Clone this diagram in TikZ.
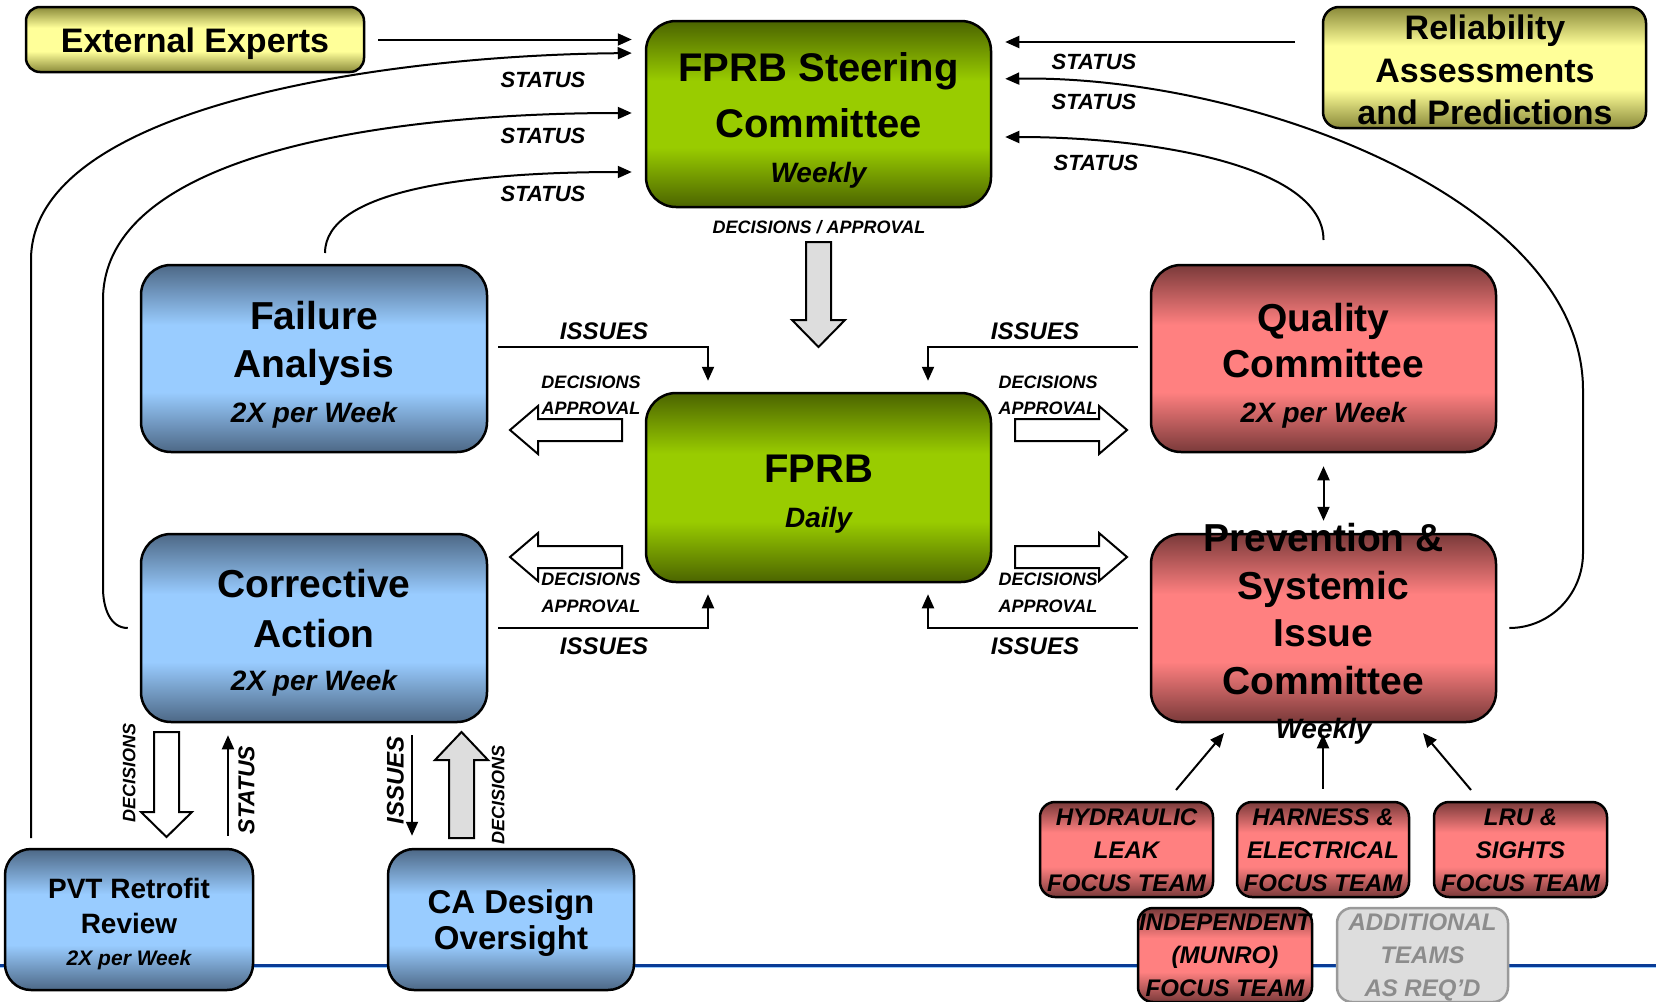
\documentclass[tikz,border=0pt]{standalone}
\usepackage{fontspec}
\setmainfont{Liberation Sans}
\usetikzlibrary{arrows.meta,calc}
\definecolor{gdk}{HTML}{4B6400}
\definecolor{glt}{HTML}{99CC00}
\definecolor{bdk}{HTML}{4D6886}
\definecolor{blt}{HTML}{99CCFF}
\definecolor{rdk}{HTML}{7A3A3A}
\definecolor{rlt}{HTML}{FF8080}
\definecolor{ydk}{HTML}{8A8A3A}
\definecolor{ylt}{HTML}{FFFF99}
\definecolor{rulecol}{HTML}{0A3C96}
\definecolor{greyfill}{HTML}{DDDDDD}
\definecolor{greyline}{HTML}{9A9A9A}
\definecolor{greytext}{HTML}{8C8C8C}
\pgfdeclareverticalshading{gshade}{100bp}{color(0bp)=(gdk); color(25bp)=(gdk); color(41bp)=(glt); color(59bp)=(glt); color(75bp)=(gdk); color(100bp)=(gdk)}
\pgfdeclareverticalshading{bshade}{100bp}{color(0bp)=(bdk); color(25bp)=(bdk); color(41bp)=(blt); color(59bp)=(blt); color(75bp)=(bdk); color(100bp)=(bdk)}
\pgfdeclareverticalshading{rshade}{100bp}{color(0bp)=(rdk); color(25bp)=(rdk); color(41bp)=(rlt); color(59bp)=(rlt); color(75bp)=(rdk); color(100bp)=(rdk)}
\pgfdeclareverticalshading{yshade}{100bp}{color(0bp)=(ydk); color(25bp)=(ydk); color(41bp)=(ylt); color(59bp)=(ylt); color(75bp)=(ydk); color(100bp)=(ydk)}
\begin{document}
\begin{tikzpicture}[x=1pt,y=-1pt,
  box/.style={draw=black, line width=2.5pt, rounded corners=#1, inner sep=0pt, shade},
  box/.default=30pt,
  gbox/.style={box=#1, shading=gshade}, gbox/.default=30pt,
  bbox/.style={box=#1, shading=bshade}, bbox/.default=30pt,
  rbox/.style={box=#1, shading=rshade}, rbox/.default=30pt,
  ybox/.style={box=#1, shading=yshade}, ybox/.default=15pt,
  greybox/.style={draw=greyline, fill=greyfill, line width=2.5pt, rounded corners=15pt, inner sep=0pt},
  arr/.style={line width=2pt, -{Triangle[length=14pt,width=12pt]}},
  darr/.style={line width=2pt, {Triangle[length=14pt,width=12pt]}-{Triangle[length=14pt,width=12pt]}},
  hollow/.style={draw=black, fill=white, line width=2pt, line join=miter},
  greyarrow/.style={draw=black, fill=greyfill, line width=2pt, line join=miter},
  txt/.style={inner sep=0pt, text depth=0pt, text height={0.72*#1}, font=\fontsize{#1}{#1}\selectfont\bfseries},
  txti/.style={txt=#1, font=\fontsize{#1}{#1}\selectfont\bfseries\itshape}
]
\useasboundingbox (0,0) rectangle (1656,1001);
% horizontal rule
\draw[line width=3pt, draw=rulecol] (0,965) -- (1656,965);
\draw[line width=1pt, draw=blt] (0,967.5) -- (1656,967.5);

% boxes
\node[ybox=14pt, minimum width=338pt, minimum height=65pt] (ext) at (195,39.5) {};
\node[ybox=16pt, minimum width=323pt, minimum height=121pt] (rel) at (1484.5,67.5) {};
\node[gbox, minimum width=345pt, minimum height=186pt] (steer) at (818.5,114) {};
\node[gbox, minimum width=345pt, minimum height=189pt] (fprb) at (818.5,487.5) {};
\node[bbox, minimum width=346pt, minimum height=187pt] (fa) at (314,358.5) {};
\node[bbox, minimum width=346pt, minimum height=188pt] (ca) at (314,628) {};
\node[rbox, minimum width=345pt, minimum height=187pt] (qc) at (1323.5,358.5) {};
\node[rbox, minimum width=345pt, minimum height=188pt] (psic) at (1323.5,628) {};
\node[bbox=26pt, minimum width=248pt, minimum height=141pt] (pvt) at (129,919.5) {};
\node[bbox=26pt, minimum width=246pt, minimum height=141pt] (cad) at (511,919.5) {};
\node[rbox=15pt, minimum width=173pt, minimum height=95pt] (hyd) at (1126.5,849.5) {};
\node[rbox=15pt, minimum width=172pt, minimum height=95pt] (har) at (1323,849.5) {};
\node[rbox=15pt, minimum width=173pt, minimum height=95pt] (lru) at (1520.5,849.5) {};
\node[rbox=15pt, minimum width=174pt, minimum height=94pt] (ind) at (1225,955) {};
\node[greybox, minimum width=171pt, minimum height=94pt] (add) at (1422.5,955) {};

% connectors to steering committee
\draw[arr, shorten <=13pt, shorten >=13pt] (ext.east) -- (ext.east -| steer.west);
\coordinate (pvt-out) at (31,838);
\draw[arr, shorten >=13pt] (pvt-out) -- (31,260) .. controls (31,105) and (390,55) .. (steer.west |- 0,53);
\coordinate (ca-out) at ([xshift=-12pt]ca.west);
\draw[arr, shorten >=13pt] (ca-out) to[out=180,in=-90] (103,588) -- (103,300) .. controls (103,150) and (400,113) .. (steer.west |- 0,113);
\coordinate (fa-out) at (325,253);
\draw[arr, shorten >=13pt] (fa-out) .. controls (325,190) and (470,172) .. (steer.west |- 0,172);
\coordinate (rel-out) at (1295,42);
\draw[arr, shorten >=13pt] (rel-out) -- (rel-out -| steer.east);
\coordinate (ps-out) at ([xshift=12pt]psic.east);
\draw[arr, shorten >=13pt] (ps-out) to[out=0,in=-90] (1583,553) -- (1583,390) .. controls (1583,200) and (1250,75) .. (steer.east |- 0,79);
\coordinate (qc-out) at (1323.5,240);
\draw[arr, shorten >=13pt] (qc-out) .. controls (1323.5,165) and (1150,137) .. (steer.east |- 0,137);

% issues connectors
\coordinate (fa-i) at (498,347);
\coordinate (qc-i) at (1138,347);
\coordinate (ca-i) at (498,628);
\coordinate (ps-i) at (1138,628);
\draw[arr, shorten >=11pt] (fa-i) -| (fprb.north -| 708,0);
\draw[arr, shorten >=11pt] (qc-i) -| (fprb.north -| 928,0);
\draw[arr, shorten >=11pt] (ca-i) -| (fprb.south -| 708,0);
\draw[arr, shorten >=11pt] (ps-i) -| (fprb.south -| 928,0);

% quality <-> prevention
\draw[darr, shorten <=13pt, shorten >=12pt] (qc.south) -- (psic.north);

% focus teams to prevention
\coordinate (hyd-o) at (1176,790);
\coordinate (hyd-t) at (1224,733);
\coordinate (lru-o) at (1471,790);
\coordinate (lru-t) at (1423,733);
\draw[arr] (hyd-o) -- (hyd-t);
\draw[arr, shorten <=12pt, shorten >=11pt] (har.north) -- (har.north |- psic.south);
\draw[arr] (lru-o) -- (lru-t);

% CA <-> PVT / CA design
\draw[arr, shorten <=12pt, shorten >=12pt] (pvt.north -| 228,0) -- (ca.south -| 228,0);
\draw[arr, shorten <=12pt, shorten >=12pt] (ca.south -| 412,0) -- (cad.north -| 412,0);

% block arrows
\draw[greyarrow] (806,242) -- (831,242) -- (831,320) -- (845,320) -- (818.5,347) -- (792,320) -- (806,320) -- cycle;
\draw[hollow] (154,732) -- (179,732) -- (179,812) -- (192,812) -- (166.5,837) -- (141,812) -- (154,812) -- cycle;
\draw[greyarrow] (449,838) -- (474,838) -- (474,760) -- (488,760) -- (461.5,732) -- (435,760) -- (449,760) -- cycle;
\draw[hollow] (622,419) -- (538,419) -- (538,406) -- (510,430) -- (538,454) -- (538,441) -- (622,441) -- cycle;
\draw[hollow] (1015,419) -- (1099,419) -- (1099,406) -- (1127,430) -- (1099,454) -- (1099,441) -- (1015,441) -- cycle;
\draw[hollow] (622,546) -- (538,546) -- (538,533) -- (510,557) -- (538,581) -- (538,568) -- (622,568) -- cycle;
\draw[hollow] (1015,546) -- (1099,546) -- (1099,533) -- (1127,557) -- (1099,581) -- (1099,568) -- (1015,568) -- cycle;

% box texts
\node[txt=34] (ext-t) at (195,40) {External Experts};
\node[txt=34] (rel-t1) at (1485,27) {Reliability};
\node[txt=34] (rel-t2) at (1485,70) {Assessments};
\node[txt=34] (rel-t3) at (1485,112) {and Predictions};
\node[txt=40] (steer-t1) at (818.5,67) {FPRB Steering};
\node[txt=40] (steer-t2) at (818.5,123) {Committee};
\node[txti=28] (steer-t3) at (818.5,172) {Weekly};
\node[txt=40] (fprb-t1) at (818.5,468) {FPRB};
\node[txti=28] (fprb-t2) at (818.5,517) {Daily};
\node[txt=39] (fa-t1) at (314,315) {Failure};
\node[txt=39] (fa-t2) at (314,363) {Analysis};
\node[txti=28] (fa-t3) at (314,412) {2X per Week};
\node[txt=39] (ca-t1) at (314,583) {Corrective};
\node[txt=39] (ca-t2) at (314,633) {Action};
\node[txti=28] (ca-t3) at (314,680) {2X per Week};
\node[txt=39] (qc-t1) at (1323.5,317) {Quality};
\node[txt=39] (qc-t2) at (1323.5,363) {Committee};
\node[txti=28] (qc-t3) at (1323.5,412) {2X per Week};
\node[txt=39] (ps-t1) at (1323.5,537) {Prevention \&};
\node[txt=39] (ps-t2) at (1323.5,585) {Systemic};
\node[txt=39] (ps-t3) at (1323.5,632) {Issue};
\node[txt=39] (ps-t4) at (1323.5,680) {Committee};
\node[txti=28] (ps-t5) at (1323.5,728) {Weekly};
\node[txt=28] (pvt-t1) at (129,888) {PVT Retrofit};
\node[txt=28] (pvt-t2) at (129,923) {Review};
\node[txti=21] (pvt-t3) at (129,958) {2X per Week};
\node[txt=33] (cad-t1) at (511,902) {CA Design};
\node[txt=33] (cad-t2) at (511,938) {Oversight};
\node[txti=24] (hyd-t1) at (1126.5,817) {HYDRAULIC};
\node[txti=24] (hyd-t2) at (1126.5,850) {LEAK};
\node[txti=24] (hyd-t3) at (1126.5,883) {FOCUS TEAM};
\node[txti=24] (har-t1) at (1323,817) {HARNESS \&};
\node[txti=24] (har-t2) at (1323,850) {ELECTRICAL};
\node[txti=24] (har-t3) at (1323,883) {FOCUS TEAM};
\node[txti=24] (lru-t1) at (1520.5,817) {LRU \&};
\node[txti=24] (lru-t2) at (1520.5,850) {SIGHTS};
\node[txti=24] (lru-t3) at (1520.5,883) {FOCUS TEAM};
\node[txti=24] (ind-t1) at (1225,922) {INDEPENDENT};
\node[txti=24] (ind-t2) at (1225,955) {(MUNRO)};
\node[txti=24] (ind-t3) at (1225,988) {FOCUS TEAM};
\node[txti=24, text=greytext] (add-t1) at (1422.5,922) {ADDITIONAL};
\node[txti=24, text=greytext] (add-t2) at (1422.5,955) {TEAMS};
\node[txti=24, text=greytext] (add-t3) at (1422.5,988) {AS REQ’D};

% connector labels
\node[txti=22] (st1) at (543,80) {STATUS};
\node[txti=22] (st2) at (543,136) {STATUS};
\node[txti=22] (st3) at (543,194) {STATUS};
\node[txti=22] (st4) at (1094,62) {STATUS};
\node[txti=22] (st5) at (1094,102) {STATUS};
\node[txti=22] (st6) at (1096,163) {STATUS};
\node[txti=18] (da) at (819,227) {DECISIONS / APPROVAL};
\node[txti=24] (is1) at (604,331) {ISSUES};
\node[txti=24] (is2) at (1035,331) {ISSUES};
\node[txti=24] (is3) at (604,646) {ISSUES};
\node[txti=24] (is4) at (1035,646) {ISSUES};
\node[txti=18] (d1) at (591,382) {DECISIONS};
\node[txti=18] (a1) at (591,408) {APPROVAL};
\node[txti=18] (d2) at (1048,382) {DECISIONS};
\node[txti=18] (a2) at (1048,408) {APPROVAL};
\node[txti=18] (d3) at (591,579) {DECISIONS};
\node[txti=18] (a3) at (591,606) {APPROVAL};
\node[txti=18] (d4) at (1048,579) {DECISIONS};
\node[txti=18] (a4) at (1048,606) {APPROVAL};
\node[txti=18, rotate=90] (d5) at (129,773) {DECISIONS};
\node[txti=23, rotate=90] (st7) at (246,790) {STATUS};
\node[txti=24, rotate=90] (is5) at (395,780) {ISSUES};
\node[txti=18, rotate=90] (d6) at (498,795) {DECISIONS};
\end{tikzpicture}
\end{document}
